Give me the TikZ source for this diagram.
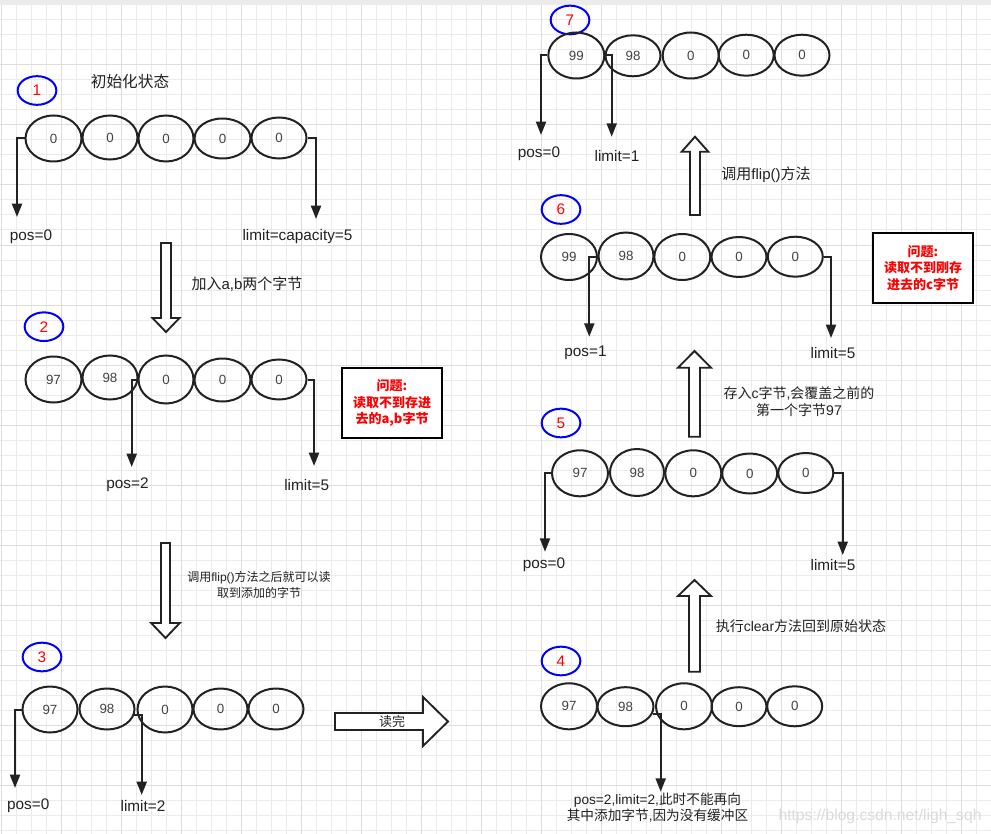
\documentclass[tikz,border=0pt]{standalone}
\usepackage{fontspec}
\setmainfont{Liberation Sans}
\newfontfamily\cjk{Noto Sans CJK SC}
\usetikzlibrary{shapes.geometric,arrows.meta}
\definecolor{ink}{HTML}{222222}
\definecolor{gridminor}{HTML}{EBEBEB}
\definecolor{gridmajor}{HTML}{DDDDDD}
\definecolor{badgeblue}{HTML}{0000FF}
\definecolor{badgered}{HTML}{FF0000}
\definecolor{wmark}{HTML}{DADADA}
\newcommand\cellat[6]{\node[cell,minimum width=#4*0.75pt,minimum height=#5*0.75pt] (#1) at (#2,#3) {#6};}
\newcommand\vhollow[6]{\draw[hollow] (#1-#2,#3) -- (#1-#2,#4) -- (#1-#5,#4) -- (#1,#6) -- (#1+#5,#4) -- (#1+#2,#4) -- (#1+#2,#3) -- cycle;}
\begin{document}
\begin{tikzpicture}[x=0.75pt,y=-0.75pt,
  cell/.style={ellipse,draw=ink,line width=1.5pt,inner sep=0pt,text=ink!85,font=\fontsize{10}{12}\selectfont},
  badge/.style={ellipse,draw=badgeblue,line width=1.5pt,minimum width=29pt,minimum height=21.5pt,inner sep=0pt,text=badgered,font=\fontsize{11.5}{13}\selectfont},
  conn/.style={draw=ink,line width=1.5pt,-{Triangle[width=7.5pt,length=10pt]}},
  lbl/.style={text=ink,inner sep=0pt,font=\fontsize{11.5}{14}\selectfont},
  hollow/.style={draw=ink,fill=white,line width=1.4pt,line join=miter},
  warn/.style={draw=black,line width=1.5pt,fill=white,text=badgered,align=center,inner sep=0pt,font=\cjk\bfseries\fontsize{9.75}{12.4}\selectfont},
  note/.style={text=ink,align=center,inner sep=0pt}
]
\useasboundingbox (0,0) rectangle (991,834);
\fill[white] (0,0) rectangle (991,834);
% grid
\foreach \i in {0,...,66} {\draw[gridminor,line width=0.75pt] ({1.7+15*\i},0) -- ({1.7+15*\i},834);}
\foreach \j in {0,...,55} {\draw[gridminor,line width=0.75pt] (0,{5+15*\j}) -- (991,{5+15*\j});}
\foreach \i in {0,4,...,64} {\draw[gridmajor,line width=0.75pt] ({1.7+15*\i},0) -- ({1.7+15*\i},834);}
\foreach \j in {0,4,...,52} {\draw[gridmajor,line width=0.75pt] (0,{5+15*\j}) -- (991,{5+15*\j});}
\fill[gridminor] (0,0) rectangle (991,5);

% ---------- state 1 ----------
\node[badge] (b1) at (37,90.5) {1};
\node[note,font=\cjk\fontsize{11.75}{14}\selectfont] (t1) at (130,82) {初始化状态};
\cellat{g1a}{53.5}{138.5}{56}{46}{0}
\cellat{g1b}{110}{137.5}{55}{44}{0}
\cellat{g1c}{166}{138.5}{55}{46}{0}
\cellat{g1d}{222.5}{138.5}{56}{40}{0}
\cellat{g1e}{279}{138}{55}{41}{0}
\coordinate (p1) at (17,217);
\coordinate (q1) at (316,219);
\draw[conn] (g1a.west) -| (p1);
\draw[conn] (g1e.east) -| (q1);
\node[lbl] (lp1) at (31,237) {pos=0};
\node[lbl] (lq1) at (297.5,237) {limit=capacity=5};

\vhollow{166}{5}{243}{318}{13.5}{332}
\node[note,font=\fontsize{11.25}{14}\selectfont] (n12) at (247,284) {{\cjk 加入}a,b{\cjk 两个字节}};

% ---------- state 2 ----------
\node[badge] (b2) at (44,326.7) {2};
\cellat{g2a}{53.5}{379.5}{56}{46}{97}
\cellat{g2b}{110}{377.5}{55}{44}{98}
\cellat{g2c}{166}{379.5}{55}{48}{0}
\cellat{g2d}{222.5}{380}{56}{43}{0}
\cellat{g2e}{279}{379.5}{55}{40}{0}
\coordinate (p2) at (131.7,467);
\coordinate (q2) at (314,466);
\draw[conn] (g2b.-5) -| (p2);
\draw[conn] (g2e.east) -| (q2);
\node[lbl] (lp2) at (127.5,485) {pos=2};
\node[lbl] (lq2) at (306.7,485) {limit=5};
\node[warn,minimum width=75pt,minimum height=52.5pt] (w2) at (392,403) {问题:\\读取不到存进\\去的a,b字节};

\vhollow{165.5}{4.5}{543}{623}{14.3}{638}
\node[note,font=\fontsize{9}{12}\selectfont] (n23) at (259,585) {{\cjk 调用}flip(){\cjk 方法之后就可以读}\\{\cjk 取到添加的字节}};

% ---------- state 3 ----------
\node[badge] (b3) at (42,657) {3};
\cellat{g3a}{50}{709.5}{55}{46}{97}
\cellat{g3b}{107}{709}{55}{41}{98}
\cellat{g3c}{165}{709.5}{55}{46}{0}
\cellat{g3d}{220.5}{709}{54}{41}{0}
\cellat{g3e}{276}{709}{55}{41}{0}
\coordinate (p3) at (15,788);
\coordinate (q3) at (141.7,795);
\draw[conn] (g3a.west) -| (p3);
\draw[conn] (g3b.-12) -| (q3);
\node[lbl] (lp3) at (28.3,806) {pos=0};
\node[lbl] (lq3) at (143,806) {limit=2};

\draw[hollow] (335,713) -- (423,713) -- (423,697) -- (448,721.5) -- (423,746) -- (423,730) -- (335,730) -- cycle;
\node[note,font=\cjk\fontsize{9.75}{12}\selectfont] (n34) at (392,722) {读完};

% ---------- state 4 ----------
\node[badge] (b4) at (561,661) {4};
\cellat{g4a}{569}{706.3}{56}{46}{97}
\cellat{g4b}{625.5}{706.7}{56}{39}{98}
\cellat{g4c}{684}{706.3}{56}{46}{0}
\cellat{g4d}{739}{706.7}{55}{39}{0}
\cellat{g4e}{794.7}{706.3}{55}{40}{0}
\coordinate (p4) at (660.7,791.7);
\draw[conn] (g4b.-14) -| (p4);
\node[note,font=\fontsize{10.25}{12}\selectfont] (lp4) at (657.5,808) {pos=2,limit=2,{\cjk 此时不能再向}\\{\cjk 其中添加字节},{\cjk 因为没有缓冲区}};
\node[text=wmark,inner sep=0pt,font=\fontsize{11.75}{14}\selectfont] (wm) at (880,816) {https://blog.csdn.net/ligh\_sqh};

\vhollow{694.5}{5.5}{671.7}{596}{16.5}{580}
\node[note,font=\fontsize{10.5}{13}\selectfont] (n45) at (801,626) {{\cjk 执行}clear{\cjk 方法回到原始状态}};

% ---------- state 5 ----------
\node[badge] (b5) at (561,423) {5};
\cellat{g5a}{580}{473.3}{56}{46}{97}
\cellat{g5b}{637}{472.5}{54}{47}{98}
\cellat{g5c}{693.3}{473.3}{56}{46}{0}
\cellat{g5d}{749.7}{473.5}{55}{40}{0}
\cellat{g5e}{805.8}{473}{55}{40}{0}
\coordinate (p5) at (545,551.7);
\coordinate (q5) at (842.7,555);
\draw[conn] (g5a.west) -| (p5);
\draw[conn] (g5e.east) -| (q5);
\node[lbl] (lp5) at (544,565) {pos=0};
\node[lbl] (lq5) at (833,565) {limit=5};

\vhollow{694.5}{5.5}{436.7}{367.7}{16.5}{351}
\node[note,font=\fontsize{10.5}{12.5}\selectfont] (n56) at (799,401.5) {{\cjk 存入}c{\cjk 字节},{\cjk 会覆盖之前的}\\{\cjk 第一个字节}97};

% ---------- state 6 ----------
\node[badge] (b6) at (561,209.5) {6};
\cellat{g6a}{569}{257}{56}{46}{99}
\cellat{g6b}{626}{256}{55}{47}{98}
\cellat{g6c}{682.3}{257}{56}{46}{0}
\cellat{g6d}{739}{257}{55}{40}{0}
\cellat{g6e}{795.3}{256.7}{55}{40}{0}
\coordinate (p6) at (589.3,336.7);
\coordinate (q6) at (831,338);
\draw[conn] (g6a.east) -| (p6);
\draw[conn] (g6e.east) -| (q6);
\node[lbl] (lp6) at (585.5,353) {pos=1};
\node[lbl] (lq6) at (833,353) {limit=5};
\node[warn,minimum width=75.5pt,minimum height=52.5pt] (w6) at (923,267.7) {问题:\\读取不到刚存\\进去的c字节};

\vhollow{695}{5}{215}{151.7}{13.3}{136.7}
\node[note,font=\fontsize{11.25}{14}\selectfont] (n67) at (766,175) {{\cjk 调用}flip(){\cjk 方法}};

% ---------- state 7 ----------
\node[badge] (b7) at (570,20) {7};
\cellat{g7a}{576.3}{55.5}{56}{46}{99}
\cellat{g7b}{633}{55.8}{55}{41}{98}
\cellat{g7c}{690.7}{55.5}{56}{46}{0}
\cellat{g7d}{746.2}{55.2}{55}{41}{0}
\cellat{g7e}{802}{55.2}{55}{41}{0}
\coordinate (p7) at (541,135);
\coordinate (q7) at (611.7,136.7);
\draw[conn] (g7a.west) -| (p7);
\draw[conn] (g7a.east) -| (q7);
\node[lbl] (lp7) at (539,154) {pos=0};
\node[lbl] (lq7) at (617,156) {limit=1};
\end{tikzpicture}
\end{document}
